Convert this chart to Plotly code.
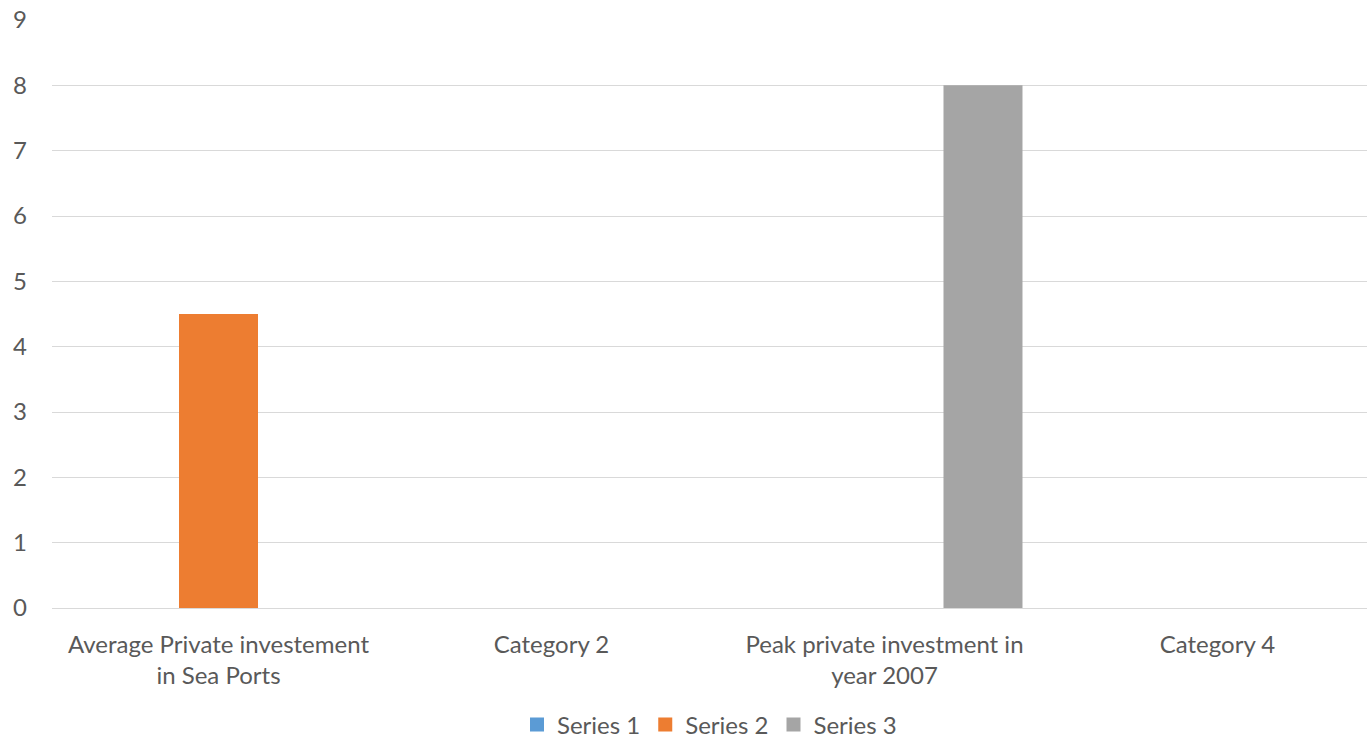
import plotly.graph_objects as go

categories = ["Average Private investement<br>in Sea Ports", "Category 2",
              "Peak private investment in<br>year 2007", "Category 4"]
series_names = ["Series 1", "Series 2", "Series 3"]
series1 = [0, 0, 0, 0]
series2 = [4.5, 0, 0, 0]
series3 = [0, 0, 8, 0]
colors = ["#5B9BD5", "#ED7D31", "#A5A5A5"]

x_idx = list(range(len(categories)))
fig = go.Figure()
for name, vals, col in zip(series_names, [series1, series2, series3], colors):
    fig.add_trace(go.Bar(x=x_idx, y=vals, name=name, showlegend=False,
                         marker=dict(color=col, line=dict(width=0))))
# legend entries with square swatches
for name, col in zip(series_names, colors):
    fig.add_trace(go.Scatter(x=[None], y=[None], mode="markers", name=name,
                             marker=dict(symbol="square", size=14, color=col)))

FONT = "Lato"
TXT = "#595959"
FS = 24
fig.update_layout(
    width=1367, height=740,
    margin=dict(l=52, r=0, t=20, b=132, autoexpand=False),
    paper_bgcolor="white", plot_bgcolor="white",
    barmode="group", bargap=0.1126, bargroupgap=0.198,
    font=dict(family=FONT, size=FS, color=TXT),
    showlegend=True,
    legend=dict(orientation="h", x=0.5, xanchor="center", y=-0.199, yanchor="middle",
                font=dict(family=FONT, size=FS, color=TXT), itemwidth=30,
                traceorder="normal"),
    xaxis=dict(range=[-0.5, 3.449], tickmode="array", tickvals=x_idx, ticktext=categories,
               showgrid=False, zeroline=False, showline=False, ticks="",
               ticklabelstandoff=20, automargin=False,
               tickfont=dict(family=FONT, size=FS, color=TXT)),
    yaxis=dict(range=[0, 9], tick0=0, dtick=1, showgrid=True, gridcolor="#D9D9D9",
               gridwidth=1, zeroline=True, zerolinecolor="#D9D9D9", zerolinewidth=1,
               showline=False, ticks="", ticklabelstandoff=24, automargin=False,
               tickfont=dict(family=FONT, size=FS, color=TXT)),
)
fig.write_html("out.html")
